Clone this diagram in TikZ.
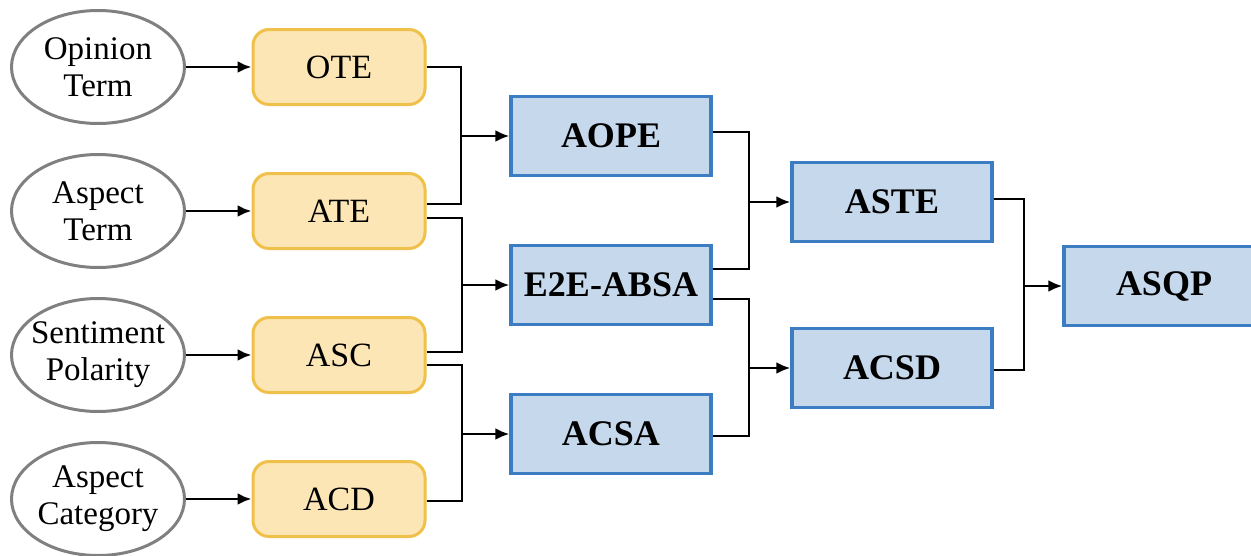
\documentclass[tikz,border=0pt]{standalone}
\usepackage{fontspec}
\setmainfont{LiberationSerif-Regular.ttf}[
  BoldFont=LiberationSerif-Bold.ttf,
  ItalicFont=LiberationSerif-Italic.ttf,
  BoldItalicFont=LiberationSerif-BoldItalic.ttf]
\usetikzlibrary{arrows.meta,calc,shapes.geometric}

\definecolor{termfill}{HTML}{FCE6B6}
\definecolor{termline}{HTML}{F0C14A}
\definecolor{taskfill}{HTML}{C5D8EC}
\definecolor{taskline}{HTML}{3B7CC3}
\definecolor{elline}{HTML}{808080}

\tikzset{
  source/.style={ellipse, draw=elline, line width=3pt, fill=white,
    minimum width=173pt, minimum height=113pt, inner xsep=-20pt, inner ysep=0pt,
    align=center, font=\fontsize{33}{37}\selectfont},
  subtask/.style={rectangle, rounded corners=16pt, draw=termline, line width=3pt,
    fill=termfill, minimum width=172pt, minimum height=75pt,
    font=\fontsize{34}{40}\selectfont},
  task/.style={rectangle, draw=taskline, line width=3.2pt, fill=taskfill,
    minimum width=200pt, minimum height=79pt,
    font=\fontsize{36}{42}\selectfont\bfseries},
  link/.style={line width=2.8pt, black},
  arr/.style={link, -{Latex[length=14pt,width=12pt]}}
}

\begin{document}
\begin{tikzpicture}[x=1pt,y=-1pt]
\useasboundingbox (0,0) rectangle (1251,555);
\clip (0,0) rectangle (1251,555);

% input elements
\node[source] (op) at (98,67)  {Opinion\\Term};
\node[source] (at) at (98,211) {Aspect\\Term};
\node[source] (sp) at (98,355) {Sentiment\\Polarity};
\node[source] (ac) at (98,499) {Aspect\\Category};

% single-element subtasks
\node[subtask] (ote) at (339,67)  {OTE};
\node[subtask] (ate) at (339,211) {ATE};
\node[subtask] (asc) at (339,355) {ASC};
\node[subtask] (acd) at (339,499) {ACD};

% compound tasks
\node[task] (aope) at (611,136) {AOPE};
\node[task] (e2e)  at (611,285) {E2E-ABSA};
\node[task] (acsa) at (611,434) {ACSA};
\node[task] (aste) at (892,202) {ASTE};
\node[task] (acsd) at (892,368) {ACSD};
\node[task] (asqp) at (1164,286) {ASQP};

% element -> subtask
\draw[arr] (op.east) -- (ote.west);
\draw[arr] (at.east) -- (ate.west);
\draw[arr] (sp.east) -- (asc.west);
\draw[arr] (ac.east) -- (acd.west);

% junction points
\coordinate (j1) at (461,136);
\coordinate (j2) at (462,285);
\coordinate (j3) at (462,434);
\coordinate (j4) at (749,202);
\coordinate (j5) at (749,368);
\coordinate (j6) at (1024,286);

% subtasks -> AOPE / E2E-ABSA / ACSA
\draw[link] (ote.east) -| (j1);
\draw[link] ($(ate.east)+(0,-7)$) -| (j1);
\draw[arr] (j1) -- (aope.west);

\draw[link] ($(ate.east)+(0,7)$) -| (j2);
\draw[link] ($(asc.east)+(0,-3)$) -| (j2);
\draw[arr] (j2) -- (e2e.west);

\draw[link] ($(asc.east)+(0,10)$) -| (j3);
\draw[link] ($(acd.east)+(0,2)$) -| (j3);
\draw[arr] (j3) -- (acsa.west);

% pairs -> ASTE / ACSD
\draw[link] ($(aope.east)+(0,-4)$) -| (j4);
\draw[link] ($(e2e.east)+(0,-16)$) -| (j4);
\draw[arr] (j4) -- (aste.west);

\draw[link] ($(e2e.east)+(0,14)$) -| (j5);
\draw[link] ($(acsa.east)+(0,2)$) -| (j5);
\draw[arr] (j5) -- (acsd.west);

% triplets -> ASQP
\draw[link] ($(aste.east)+(0,-3)$) -| (j6);
\draw[link] ($(acsd.east)+(0,2)$) -| (j6);
\draw[arr] (j6) -- (asqp.west);
\end{tikzpicture}
\end{document}
